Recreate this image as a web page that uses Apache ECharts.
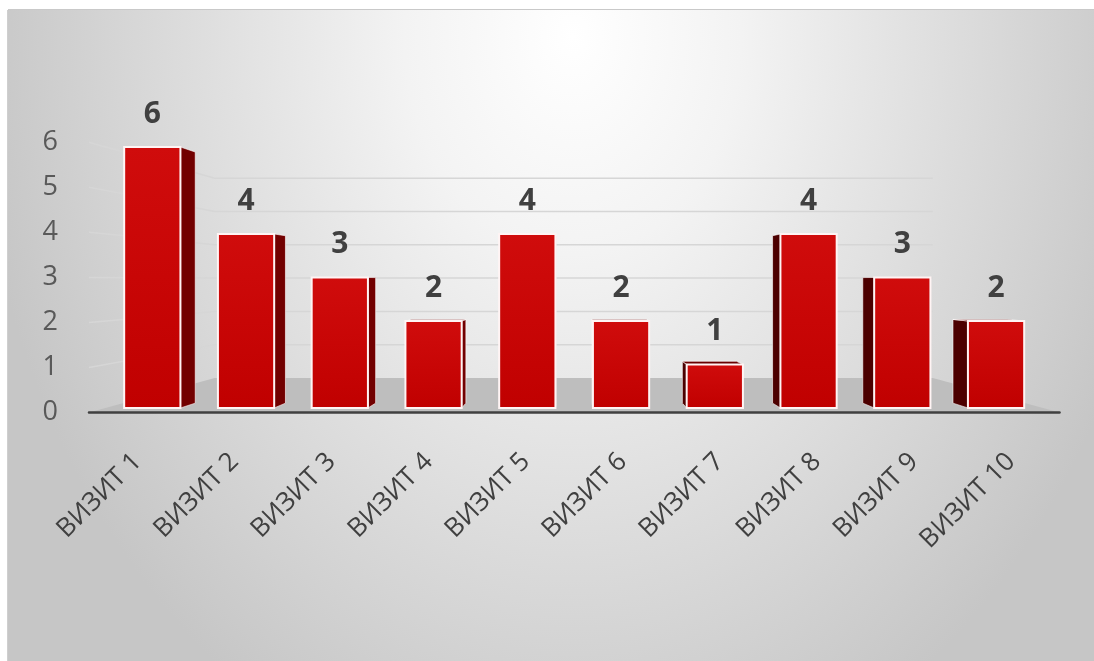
<!DOCTYPE html>
<html>
<head>
<meta charset="utf-8">
<script src="https://cdn.jsdelivr.net/npm/echarts@6/dist/echarts.min.js"></script>
<style>
  html,body{margin:0;padding:0;background:#fff;width:1094px;height:661px;overflow:hidden;}
  #chart{position:absolute;left:8px;top:10px;width:1086px;height:651px;
    background:radial-gradient(ellipse 600px 780px at 52% 4%, #ffffff 0%, #f3f3f3 28%, #c6c6c6 100%);
    box-shadow:0 -1px 0 #c9c9c9,-1px 0 0 #cfcfcf;}
</style>
</head>
<body>
<div id="chart"></div>
<script>
  // категории и значения
  let visits = ['ВИЗИТ 1', 'ВИЗИТ 2', 'ВИЗИТ 3', 'ВИЗИТ 4', 'ВИЗИТ 5',
                'ВИЗИТ 6', 'ВИЗИТ 7', 'ВИЗИТ 8', 'ВИЗИТ 9', 'ВИЗИТ 10'];
  let counts = [6, 4, 3, 2, 4, 2, 1, 4, 3, 2];
  let yTicks = [0, 1, 2, 3, 4, 5, 6];

  // псевдо-3D: доля сдвига к точке схода
  let VP_VALUE = 2.94;   // высота горизонта в единицах оси
  let T_FRONT = 0.034;   // передняя грань столбика
  let T_BACK = 0.0705;   // задняя грань столбика
  let T_WALL = 0.26;     // задняя стенка

  function vanish(params, api) {
    let cs = params.coordSys;
    return [cs.x + cs.width / 2 - 2, api.coord([0, VP_VALUE])[1]];
  }
  function proj(v, x, y, t) {
    return [x + (v[0] - x) * t, y + (v[1] - y) * t];
  }

  // пол и линии сетки
  function renderWall(params, api) {
    let cs = params.coordSys;
    let v = vanish(params, api);
    let val = api.value(1);
    let y = api.coord([0, val])[1];
    let x0 = cs.x, x1 = cs.x + cs.width;
    if (val === 0) {
      return {
        type: 'polygon',
        shape: {points: [[x0, y], [x1, y], proj(v, x1, y, T_WALL), proj(v, x0, y, T_WALL)]},
        style: {fill: '#bebebe'}
      };
    }
    return {
      type: 'polyline',
      shape: {points: [[x0, y], proj(v, x0, y, T_WALL), proj(v, x1, y, T_WALL)]},
      style: {stroke: '#d6d6d6', lineWidth: 1.5, fill: null}
    };
  }

  // столбики
  function renderBar(params, api) {
    let v = vanish(params, api);
    let idx = api.value(0), val = api.value(1);
    let base = api.coord([idx, 0]);
    let top = api.coord([idx, val]);
    let hw = api.size([1, 0])[0] * 0.3;
    let L = base[0] - hw, R = base[0] + hw, T = top[1], B = base[1];
    let fTL = proj(v, L, T, T_FRONT), fTR = proj(v, R, T, T_FRONT);
    let fBR = proj(v, R, B, T_FRONT), fBL = proj(v, L, B, T_FRONT);
    let bTL = proj(v, L, T, T_BACK), bTR = proj(v, R, T, T_BACK);
    let bBR = proj(v, R, B, T_BACK), bBL = proj(v, L, B, T_BACK);
    let edge = 'rgba(255,255,255,0.6)';
    let children = [];
    if (fTR[0] < v[0] - 0.5) {
      children.push({type: 'polygon', shape: {points: [fTR, bTR, bBR, fBR]},
        style: {fill: '#720000', stroke: edge, lineWidth: 1}});
    }
    if (fTL[0] > v[0] + 0.5) {
      children.push({type: 'polygon', shape: {points: [fTL, bTL, bBL, fBL]},
        style: {fill: '#4c0000', stroke: edge, lineWidth: 1}});
    }
    if (fTL[1] > v[1]) {
      children.push({type: 'polygon', shape: {points: [fTL, fTR, bTR, bTL]},
        style: {fill: '#6a0000', stroke: edge, lineWidth: 1}});
    }
    children.push({
      type: 'polygon',
      shape: {points: [fTL, fTR, fBR, fBL]},
      style: {
        fill: {type: 'linear', x: 0, y: 0, x2: 0, y2: 1,
          colorStops: [{offset: 0, color: '#d00c0c'}, {offset: 1, color: '#c00000'}]},
        stroke: '#fff4f4', lineWidth: 2
      }
    });
    children.push({
      type: 'text',
      style: {
        text: String(val), x: (fTL[0] + fTR[0]) / 2, y: fTL[1] - 33,
        align: 'center', verticalAlign: 'middle',
        fontSize: 30, fontWeight: 'bold', fontFamily: '"Open Sans"', fill: '#404040'
      }
    });
    return {type: 'group', children: children};
  }

  let myChart = echarts.init(document.getElementById('chart'));
  let option = {
    animation: false,
    backgroundColor: 'transparent',
    grid: {left: 81, right: 34.5, top: 132.3, bottom: 248.5},
    xAxis: {
      type: 'category',
      data: visits,
      z: 5,
      axisLine: {show: true, lineStyle: {color: '#404040', width: 2.5}},
      axisTick: {show: false},
      axisLabel: {
        interval: 0, rotate: 45, margin: 45,
        fontSize: 26, fontFamily: '"Open Sans"', color: '#404040'
      },
      splitLine: {show: false}
    },
    yAxis: {
      type: 'value',
      min: 0, max: 6, interval: 1,
      axisLine: {show: false},
      axisTick: {show: false},
      splitLine: {show: false},
      axisLabel: {margin: 31, fontSize: 27, fontFamily: '"Open Sans"', color: '#595959'}
    },
    series: [
      {
        name: 'сетка',
        type: 'custom',
        z: 1,
        clip: false,
        renderItem: renderWall,
        encode: {x: 0, y: 1},
        data: yTicks.map(function (t) { return [0, t]; })
      },
      {
        name: 'визиты',
        type: 'custom',
        z: 3,
        clip: false,
        renderItem: renderBar,
        encode: {x: 0, y: 1},
        data: counts.map(function (c, i) { return [i, c]; })
      }
    ]
  };
  myChart.setOption(option);
</script>
</body>
</html>
